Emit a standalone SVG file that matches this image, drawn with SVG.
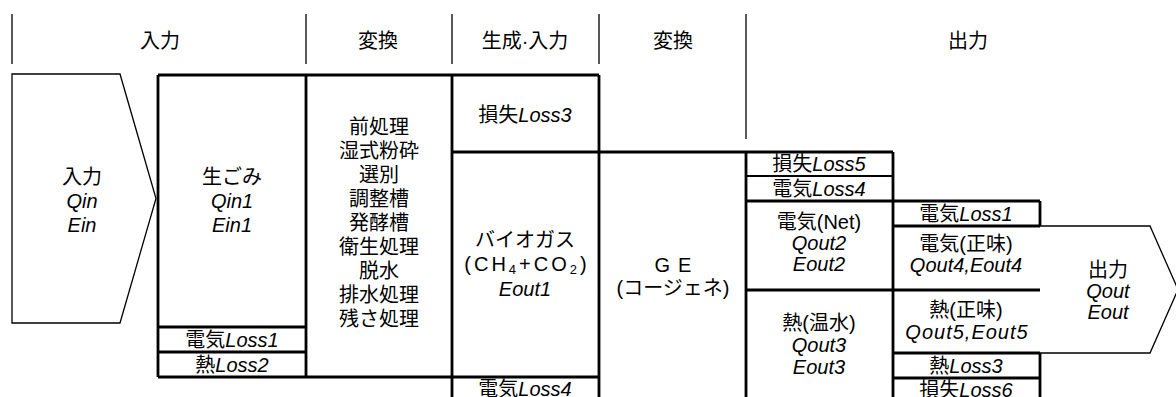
<svg xmlns="http://www.w3.org/2000/svg" width="1176" height="397" viewBox="0 0 1176 397">
<style>
.t{font-family:"Liberation Sans","Noto Sans CJK JP",sans-serif;font-size:20px;fill:#000;text-anchor:middle;dominant-baseline:central}
.i{font-style:italic}
.k{stroke:#000;stroke-width:2.8;fill:none}
.m{stroke:#000;stroke-width:2;fill:none}
.n{stroke:#000;stroke-width:1.3;fill:none}
</style>
<rect width="1176" height="397" fill="#fff"/>
<g id="header">
<path class="n" d="M12,14V64M306,14V64M452,14V64M599,14V64M746,14V139"/>
<text class="t" x="160" y="41">入力</text>
<text class="t" x="378" y="41">変換</text>
<text class="t" x="525" y="41">生成·入力</text>
<text class="t" x="673" y="41">変換</text>
<text class="t" x="968" y="41">出力</text>
</g>
<g id="grid">
<path class="k" d="M158,75H599M158,75V377M306,75V377M452,75V397M599,75V397M158,377H599M452,152H893M746,152V397M893,152V397M746,201H1040M1040,201V226M893,226H1040M746,290H1040M893,353H1040M1040,353V397M893,378H1040M158,327H306M158,352H306"/>
<path class="m" d="M746,176H893"/>
</g>
<g id="input">
<polygon class="n" points="12,74 120,74 156,198.5 120,323 12,323"/>
<text class="t" x="82" y="177">入力</text>
<text class="t i" x="82" y="201">Qin</text>
<text class="t i" x="82" y="225">Ein</text>
</g>
<g id="namagomi">
<text class="t" x="232" y="177">生ごみ</text>
<text class="t i" x="232" y="201">Qin1</text>
<text class="t i" x="232" y="225">Ein1</text>
<text class="t" x="232" y="339.5">電気<tspan class="i">Loss1</tspan></text>
<text class="t" x="232" y="364.5">熱<tspan class="i">Loss2</tspan></text>
</g>
<g id="process">
<text class="t" x="379" y="127">前処理</text>
<text class="t" x="379" y="151">湿式粉砕</text>
<text class="t" x="379" y="175">選別</text>
<text class="t" x="379" y="199">調整槽</text>
<text class="t" x="379" y="223">発酵槽</text>
<text class="t" x="379" y="247">衛生処理</text>
<text class="t" x="379" y="271">脱水</text>
<text class="t" x="379" y="295">排水処理</text>
<text class="t" x="379" y="319">残さ処理</text>
</g>
<g id="loss3">
<text class="t" x="525" y="115">損失<tspan class="i">Loss3</tspan></text>
</g>
<g id="biogas">
<text class="t" x="525" y="240">バイオガス</text>
<text class="t" x="527" y="264" letter-spacing="3">(CH<tspan font-size="13" dy="5">4</tspan><tspan dy="-5">+CO</tspan><tspan font-size="13" dy="5">2</tspan><tspan dy="-5">)</tspan></text>
<text class="t i" x="525" y="289">Eout1</text>
</g>
<g id="loss4-bottom">
<text class="t" x="525" y="389">電気<tspan class="i">Loss4</tspan></text>
</g>
<g id="ge">
<text class="t" x="677" y="265" letter-spacing="8">GE</text>
<text class="t" x="673" y="288">(コージェネ)</text>
</g>
<g id="loss5">
<text class="t" x="819" y="164">損失<tspan class="i">Loss5</tspan></text>
</g>
<g id="loss4">
<text class="t" x="819" y="188.5">電気<tspan class="i">Loss4</tspan></text>
</g>
<g id="elec-net">
<text class="t" x="819" y="222">電気(Net)</text>
<text class="t i" x="819" y="243">Qout2</text>
<text class="t i" x="819" y="264">Eout2</text>
</g>
<g id="heat">
<text class="t" x="819" y="323">熱(温水)</text>
<text class="t i" x="819" y="345">Qout3</text>
<text class="t i" x="819" y="367">Eout3</text>
</g>
<g id="loss1">
<text class="t" x="966" y="213.5">電気<tspan class="i">Loss1</tspan></text>
</g>
<g id="elec-net2">
<text class="t" x="966" y="244">電気(正味)</text>
<text class="t i" x="966" y="265">Qout4,Eout4</text>
</g>
<g id="heat-net">
<text class="t" x="966" y="310">熱(正味)</text>
<text class="t i" x="967" y="332" letter-spacing="1">Qout5,Eout5</text>
</g>
<g id="heatloss3">
<text class="t" x="966" y="365.5">熱<tspan class="i">Loss3</tspan></text>
</g>
<g id="loss6">
<text class="t" x="966" y="390">損失<tspan class="i">Loss6</tspan></text>
</g>
<g id="output">
<polyline class="n" points="1040,226 1150,226 1178,289.5 1150,353 1040,353"/>
<text class="t" x="1108" y="270">出力</text>
<text class="t i" x="1108" y="291">Qout</text>
<text class="t i" x="1108" y="312">Eout</text>
</g>
</svg>
